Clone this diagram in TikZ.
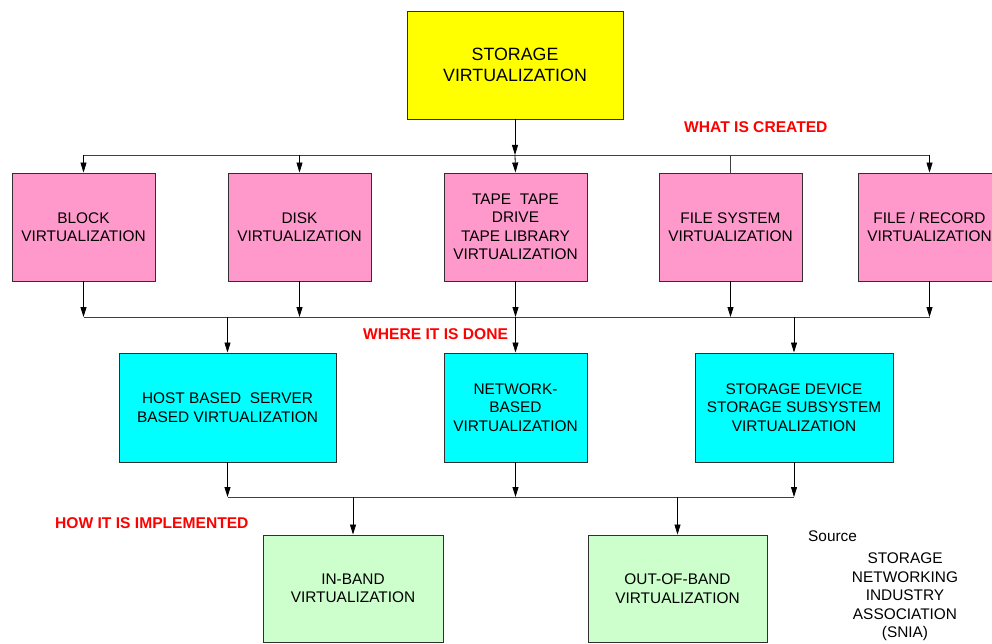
\documentclass[tikz,border=0pt]{standalone}
\usepackage{fontspec}
\setmainfont{Liberation Sans}
\usetikzlibrary{arrows.meta}
\definecolor{boxyellow}{HTML}{FFFF00}
\definecolor{boxpink}{HTML}{FF99CC}
\definecolor{boxcyan}{HTML}{00FFFF}
\definecolor{boxgreen}{HTML}{CCFFCC}
\definecolor{edge}{HTML}{303030}
\definecolor{labelred}{HTML}{FF0000}
\tikzset{
  box/.style={draw=edge, line width=0.9pt, align=center, inner sep=0pt,
    font=\fontsize{15.4}{18.5}\selectfont, text=black},
  topbox/.style={box, fill=boxyellow, minimum width=216pt, minimum height=108pt,
    font=\fontsize{17.8}{21}\selectfont},
  kindbox/.style={box, fill=boxpink, minimum width=143pt, minimum height=108pt},
  placebox/.style={box, fill=boxcyan, minimum height=109pt},
  waybox/.style={box, fill=boxgreen, minimum width=180pt, minimum height=107pt},
  heading/.style={text=labelred, font=\fontsize{15.6}{18}\selectfont\bfseries, inner sep=0pt},
  note/.style={font=\fontsize{15.4}{18.5}\selectfont, inner sep=0pt, align=center},
  link/.style={draw=black, line width=0.8pt, -{Triangle[width=6pt,length=10pt]}},
  bus/.style={draw=black!75, line width=0.8pt},
}
\begin{document}
\begin{tikzpicture}[x=1pt, y=-1pt]
\useasboundingbox (0,0) rectangle (992,644);

% top level
\node[topbox] (storage) at (515,65) {STORAGE\\VIRTUALIZATION};

% what is created
\node[kindbox] (block)  at (83.5,227)  {BLOCK\\VIRTUALIZATION};
\node[kindbox] (disk)   at (299.5,227) {DISK\\VIRTUALIZATION};
\node[kindbox] (tape)   at (515.5,227) {TAPE\ \ TAPE\\DRIVE\\TAPE LIBRARY\\VIRTUALIZATION};
\node[kindbox] (files)  at (730.5,227) {FILE SYSTEM\\VIRTUALIZATION};
\node[kindbox] (record) at (929.5,227) {FILE / RECORD\\VIRTUALIZATION};

% where it is done
\node[placebox, minimum width=217pt] (host)    at (227.5,407.5) {HOST BASED\ \ SERVER\\BASED VIRTUALIZATION};
\node[placebox, minimum width=143pt] (network) at (515.5,407.5) {NETWORK-\\BASED\\VIRTUALIZATION};
\node[placebox, minimum width=198pt] (device)  at (794,407.5)   {STORAGE DEVICE\\STORAGE SUBSYSTEM\\VIRTUALIZATION};

% how it is implemented
\node[waybox] (inband)  at (353,588.5)   {IN-BAND\\VIRTUALIZATION};
\node[waybox, minimum width=179pt] (outband) at (677.5,588.5) {OUT-OF-BAND\\VIRTUALIZATION};

% section headings
\node[heading, anchor=west] (hwhat)  at (684,127) {WHAT IS CREATED};
\node[heading, anchor=west] (hwhere) at (363,334) {WHERE IT IS DONE};
\node[heading, anchor=west] (hhow)   at (55,523)  {HOW IT IS IMPLEMENTED};

% source note
\node[note, anchor=west] (src) at (808,536) {Source};
\node[note] (snia) at (905,597) {STORAGE\\NETWORKING\\INDUSTRY\\ASSOCIATION\\(SNIA)};

% first bus
\coordinate (b1) at (515,155);
\coordinate (b1l) at (83.5,155);
\coordinate (b1r) at (929.5,155);
\draw[link] (storage.south) -- (b1);
\draw[bus] (b1l) -- (b1r);
\draw[link] (b1l) -- (block.north);
\draw[link] (disk.north |- b1) -- (disk.north);
\draw[link] (b1) -- (tape.north);
\draw[bus] (files.north |- b1) -- (files.north);
\draw[link] (b1r) -- (record.north);

% second bus
\coordinate (b2l) at (83.5,317);
\coordinate (b2r) at (929.5,317);
\draw[bus] (b2l) -- (b2r);
\foreach \n in {block,disk,tape,files,record}
  \draw[link] (\n.south) -- (\n.south |- b2l);
\draw[link] (host.north |- b2l) -- (host.north);
\draw[link] (network.north |- b2l) -- (network.north);
\draw[link] (device.north |- b2l) -- (device.north);

% third bus
\coordinate (b3l) at (227.5,497);
\coordinate (b3r) at (794,497);
\draw[bus] (b3l) -- (b3r);
\foreach \n in {host,network,device}
  \draw[link] (\n.south) -- (\n.south |- b3l);
\draw[link] (inband.north |- b3l) -- (inband.north);
\draw[link] (outband.north |- b3l) -- (outband.north);
\end{tikzpicture}
\end{document}
